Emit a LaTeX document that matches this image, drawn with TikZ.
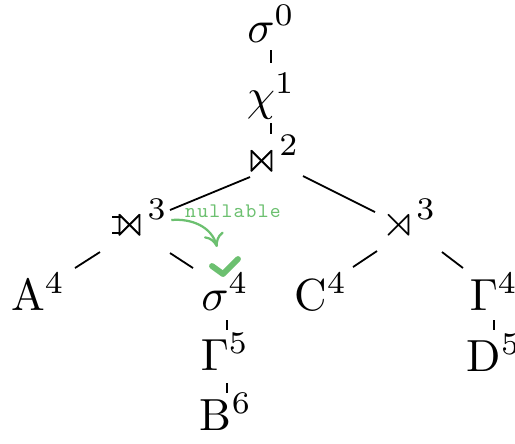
\documentclass[tikz,border=0pt]{standalone}
\usepackage{amsmath,amssymb}
\usepackage{fontspec}
\usepackage{tikz}
\usetikzlibrary{arrows.meta,calc}
\definecolor{NullG}{RGB}{108,192,112}
\newfontfamily\markfont{lmmono10-regular}[Extension=.otf,LetterSpace=6]
% join symbols
\newcommand\bowtieN{\mathrel{\rlap{$\ltimes$}{\rtimes}}}
\newcommand\leftojoin{\mathrel{\rlap{\rule[.55pt]{2pt}{.4pt}}\rule[4.05pt]{2pt}{.4pt}\kern-1.9pt{\bowtieN}}}

\begin{document}
\begin{tikzpicture}[x=0.2222pt,y=-0.2222pt,
    op/.style={inner sep=0pt,anchor=base},
    tedge/.style={line width=0.4pt},
    tick/.style={NullG,line width=1.3pt,line cap=round,line join=round},
    nullarr/.style={NullG,line width=0.5pt,-{To[length=3pt,width=4.5pt]}}]
  \useasboundingbox (0,0) rectangle (515,443);
  % plan nodes
  \node[op] (s0)  at (271,42)  {$\sigma^0$};
  \node[op] (chi) at (271,110) {$\chi^1$};
  \node[op] (j2)  at (272,172) {$\bowtieN^2$};
  \node[op] (lj)  at (140,236) {$\leftojoin^3$};
  \node[op] (sj)  at (409,236) {$\rtimes^3$};
  \node[op] (A)   at (38,310)  {A$^4$};
  \node[op] (s4)  at (225,310) {$\sigma^4$};
  \node[op] (C)   at (321,310) {C$^4$};
  \node[op] (G4)  at (494,310) {$\Gamma^4$};
  \node[op] (G5)  at (225,370) {$\Gamma^5$};
  \node[op] (B)   at (226,430) {B$^6$};
  \node[op] (D)   at (494,371) {D$^5$};
  % tree edges, ends given from the base of each node
  \foreach \p/\c/\u/\v in {s0/chi/{0,8}/{0,-47}, chi/j2/{0,13}/{-1,-38},
      j2/lj/{-22,5}/{30,-26}, j2/sj/{31,4}/{-34,-24},
      lj/A/{-40,16}/{37,-42}, lj/s4/{30,17}/{-32,-42},
      sj/C/{-32,15}/{32,-43}, sj/G4/{33,16}/{-31,-42},
      s4/G5/{2,10}/{2,-40}, G5/B/{2,13}/{1,-37}, G4/D/{0,10}/{0,-41}}
    \draw[tedge] ($(\p.base)+(\u)$) -- ($(\c.base)+(\v)$);
  % nullable mark
  \node[NullG,inner sep=0pt] (nl) at (233,211) {\fontsize{4.6}{5}\markfont nullable};
  \draw[nullarr] ($(nl.west)+(-13,9)$) to[out=5,in=105] ($(s4.base)+(-8,-63)$);
  \draw[tick] ($(s4.base)+(-13,-44)$) -- ($(s4.base)+(-2,-36)$) -- ($(s4.base)+(13,-51)$);
\end{tikzpicture}
\end{document}
